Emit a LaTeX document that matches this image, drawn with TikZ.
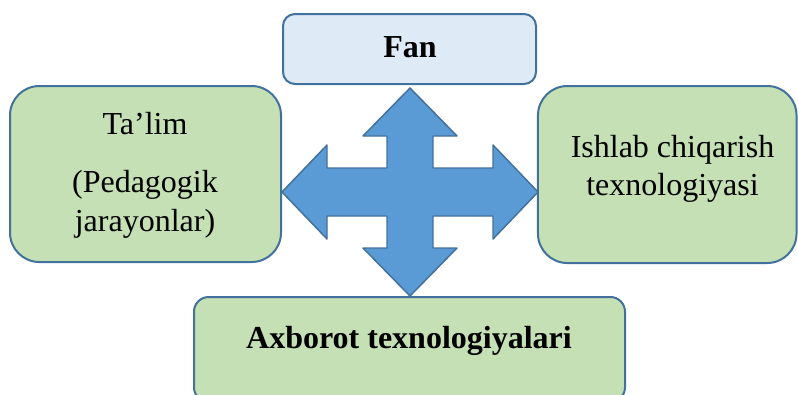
\documentclass[tikz,border=0pt]{standalone}
\usepackage{fontspec}
\setmainfont{Liberation Serif}
\definecolor{boxline}{HTML}{41719C}
\definecolor{greenfill}{HTML}{C5E0B4}
\definecolor{fanfill}{HTML}{DEEBF7}
\definecolor{arrowfill}{HTML}{5B9BD5}
\begin{document}
\begin{tikzpicture}[x=0.75pt, y=-0.75pt, line join=round,
    card/.style={draw=boxline, line width=1.5pt, inner sep=0pt},
    label text/.style={inner sep=0pt, align=center, font=\fontsize{24}{29}\selectfont}]
  \useasboundingbox (0,0) rectangle (798,394);
  \clip (0,0) rectangle (798,394);

  % boxes
  \node[card, fill=fanfill, rounded corners=9pt, minimum width=189.75pt, minimum height=52.5pt] (fan) at (409.5,49) {};
  \node[card, fill=greenfill, rounded corners=22pt, minimum width=203.25pt, minimum height=132pt] (talim) at (145.5,174) {};
  \node[card, fill=greenfill, rounded corners=22pt, minimum width=193.9pt, minimum height=132.75pt] (ishlab) at (667.25,174.5) {};
  \node[card, fill=greenfill, rounded corners=11pt, minimum width=323.25pt, minimum height=78.75pt] (axborot) at (409.5,349.5) {};

  % texts
  \node[label text] (fantxt) at (410,47.4) {\bfseries Fan};
  \node[label text] (talimtxt) at (145,175.6) {Ta’lim\\[14.5pt](Pedagogik\\jarayonlar)};
  \node[label text] (ishlabtxt) at (672.5,169) {Ishlab chiqarish\\texnologiyasi};
  \node[label text] (axborottxt) at (409,340.5) {\bfseries Axborot texnologiyalari};

  % four-way arrow
  \coordinate (up) at (410,88);
  \coordinate (rt) at (538,192);
  \coordinate (dn) at (410,296);
  \coordinate (lt) at (282,192);
  \draw[draw=boxline, fill=arrowfill, line width=1.1pt]
    (up) -- (457,136) -- (433,136) -- (433,168) -- (493,168) -- (493,145)
    -- (rt) -- (493,239) -- (493,216) -- (433,216) -- (433,248) -- (457,248)
    -- (dn) -- (363,248) -- (387,248) -- (387,216) -- (327,216) -- (327,239)
    -- (lt) -- (327,145) -- (327,168) -- (387,168) -- (387,136) -- (363,136) -- cycle;
\end{tikzpicture}
\end{document}
